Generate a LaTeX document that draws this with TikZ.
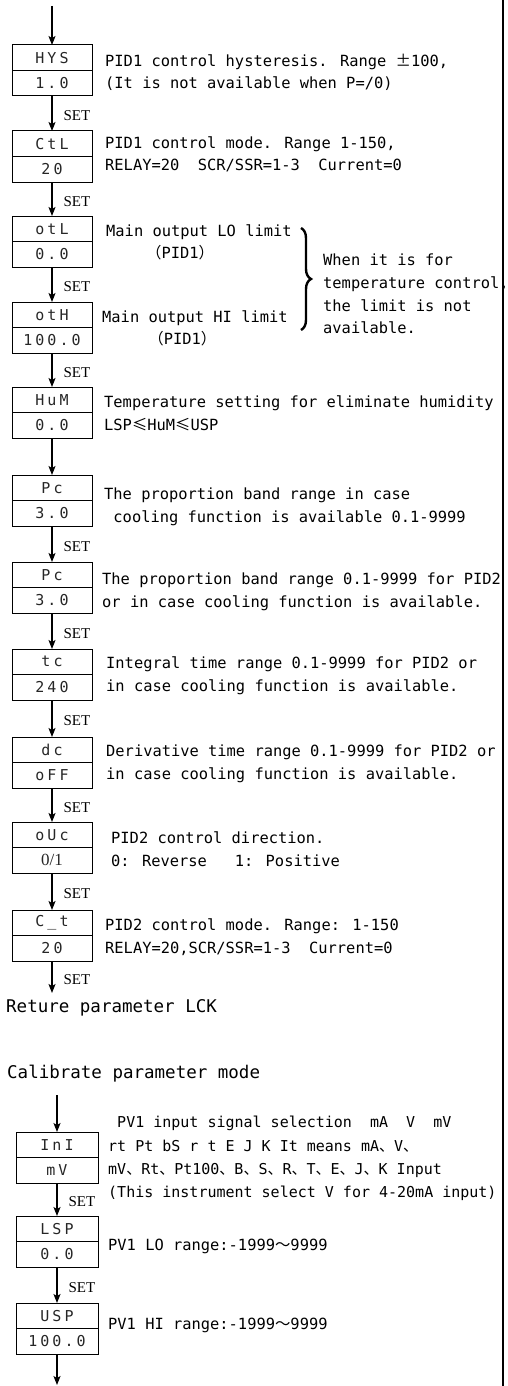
\documentclass[tikz,border=0pt]{standalone}
\usepackage{fontspec}
\usetikzlibrary{positioning, arrows.meta, decorations.pathreplacing}
\newfontfamily\descfont{DejaVu Sans Mono}
\newfontfamily\cjkfont{Noto Sans CJK SC}
\newfontfamily\setfont{Liberation Serif}
\newfontfamily\segfont[LetterSpace=20]{DejaVu Sans Mono}
\newcommand{\dunhao}{{\cjkfont 、}}

\begin{document}
\begin{tikzpicture}[x=1pt, y=-1pt,
    seg/.style={rectangle, draw, line width=1pt, outer sep=0pt, minimum width=80pt,
    minimum height=25.5pt, inner sep=0pt, text=black!85,
    font=\segfont\fontsize{15}{15}\selectfont},
    segw/.style={seg, minimum width=82pt},
    desc/.style={anchor=west, align=left, inner sep=0pt,
    font=\descfont\fontsize{15.4}{22.6}\selectfont},
    title/.style={anchor=west, inner sep=0pt, font=\descfont\fontsize{17.5}{20}\selectfont},
    arrow/.style={-{Stealth[length=9pt, width=7pt, inset=2pt]}, line width=1.1pt},
    setlbl/.style={right=11pt, pos=0.57, inner sep=0pt, font=\setfont\fontsize{15}{15}\selectfont},
]
\useasboundingbox (0,0) rectangle (508,1386);

% parameter boxes
\coordinate (start) at (52,6);
\node[seg] (hys) at (52,57.75) {HYS};
\node[seg, below=0pt of hys] (hysv) {1.0};
\node[seg, below=35pt of hysv] (ctl) {CtL};
\node[seg, below=0pt of ctl] (ctlv) {20};
\node[seg, below=34pt of ctlv] (otl) {otL};
\node[seg, below=0pt of otl] (otlv) {0.0};
\node[seg, below=35pt of otlv] (oth) {otH};
\node[seg, below=0pt of oth] (othv) {100.0};
\node[seg, below=34pt of othv] (hum) {HuM};
\node[seg, below=0pt of hum] (humv) {0.0};
\node[seg, below=37pt of humv] (pc) {Pc};
\node[seg, below=0pt of pc] (pcv) {3.0};
\node[seg, below=36pt of pcv] (pcb) {Pc};
\node[seg, below=0pt of pcb] (pcbv) {3.0};
\node[seg, below=36pt of pcbv] (tc) {tc};
\node[seg, below=0pt of tc] (tcv) {240};
\node[seg, below=37pt of tcv] (dc) {dc};
\node[seg, below=0pt of dc] (dcv) {oFF};
\node[seg, below=34pt of dcv] (ouc) {oUc};
\node[seg, below=0pt of ouc, font=\setfont\fontsize{17}{17}\selectfont] (oucv) {0/1};
\node[seg, below=37pt of oucv] (ct) {C\_t};
\node[seg, below=0pt of ct] (ctv) {20};

% descriptions
\node[desc, right=13pt of hys.south east, yshift=-2pt] (hysd)
  {PID1 control hysteresis. Range {\cjkfont ±}100,\\(It is not available when P=/0)};
\node[desc, right=13pt of ctl.south east, yshift=2pt] (ctld)
  {PID1 control mode. Range 1-150,\\RELAY=20\ \ SCR/SSR=1-3\ \ Current=0};
\node[desc, right=14pt of otl.south east, yshift=-1pt] (otld)
  {Main output LO limit\\\hspace*{2.6em}{\cjkfont （}PID1{\cjkfont ）}};
\node[desc, right=10pt of oth.south east, yshift=-1pt] (othd)
  {Main output HI limit\\\hspace*{3em}{\cjkfont （}PID1{\cjkfont ）}};
\node[desc, right=12pt of hum.south east, yshift=-0.5pt] (humd)
  {Temperature setting for eliminate humidity\\LSP{\cjkfont ≤}HuM{\cjkfont ≤}USP};
\node[desc, right=12pt of pc.south east, yshift=-6pt] (pcd)
  {The proportion band range in case\\\ cooling function is available 0.1-9999};
\node[desc, right=10pt of pcb.south east, yshift=-4pt] (pcbd)
  {The proportion band range 0.1-9999 for PID2\\or in case cooling function is available.};
\node[desc, right=14pt of tc.south east, yshift=-1pt] (tcd)
  {Integral time range 0.1-9999 for PID2 or\\in case cooling function is available.};
\node[desc, right=14pt of dc.south east, yshift=-1pt] (dcd)
  {Derivative time range 0.1-9999 for PID2 or\\in case cooling function is available.};
\node[desc, right=19pt of ouc.south east, yshift=-1.5pt] (oucd)
  {PID2 control direction.\\0: Reverse\ \ \ 1: Positive};
\node[desc, right=13pt of ct.south east, yshift=-1.5pt] (ctd)
  {PID2 control mode. Range: 1-150\\RELAY=20,SCR/SSR=1-3\ \ Current=0};

% brace for the output limits
\draw[line width=2.4pt, decorate, decoration={brace, amplitude=10pt}] (301,228) -- (301,330);
\node[desc] (limd) at (323,294)
  {When it is for\\temperature control,\\the limit is not\\available.};

% return and calibrate mode
\node[title] (ret) at (6,1008) {Reture parameter LCK};
\coordinate (retin) at (52,993);
\node[title] (cal) at (7,1074) {Calibrate parameter mode};
\coordinate (calout) at (57,1095);

\node[segw] (ini) at (57,1144.75) {InI};
\node[segw, below=0pt of ini] (iniv) {mV};
\node[segw, below=33pt of iniv] (lsp) {LSP};
\node[segw, below=0pt of lsp] (lspv) {0.0};
\node[segw, below=36pt of lspv] (usp) {USP};
\node[segw, below=0pt of usp] (uspv) {100.0};
\coordinate (finish) at (57,1385);

\node[desc, right=10pt of ini.south east, yshift=-1pt,
  font=\descfont\fontsize{15}{23.3}\selectfont] (inid)
  {\ PV1 input signal selection\ \ mA\ \ V\ \ mV\\
   rt Pt bS r t E J K It means mA\dunhao V\dunhao\\
   mV\dunhao Rt\dunhao Pt100\dunhao B\dunhao S\dunhao R\dunhao T\dunhao E\dunhao J\dunhao K Input\\
   (This instrument select V for 4-20mA input)};
\node[desc, right=10pt of lsp.south east, yshift=-5pt] (lspd)
  {PV1 LO range:-1999{\cjkfont ～}9999};
\node[desc, right=10pt of usp.south east, yshift=3pt] (uspd)
  {PV1 HI range:-1999{\cjkfont ～}9999};

% connectors
\draw[arrow] (start) -- (hys);
\draw[arrow] (hysv) -- node[setlbl] {SET} (ctl);
\draw[arrow] (ctlv) -- node[setlbl] {SET} (otl);
\draw[arrow] (otlv) -- node[setlbl] {SET} (oth);
\draw[arrow] (othv) -- node[setlbl] {SET} (hum);
\draw[arrow] (humv) -- (pc);
\draw[arrow] (pcv) -- node[setlbl] {SET} (pcb);
\draw[arrow] (pcbv) -- node[setlbl] {SET} (tc);
\draw[arrow] (tcv) -- node[setlbl] {SET} (dc);
\draw[arrow] (dcv) -- node[setlbl] {SET} (ouc);
\draw[arrow] (oucv) -- node[setlbl] {SET} (ct);
\draw[arrow] (ctv) -- node[setlbl] {SET} (retin);
\draw[arrow] (calout) -- (ini);
\draw[arrow] (iniv) -- node[setlbl] {SET} (lsp);
\draw[arrow] (lspv) -- node[setlbl] {SET} (usp);
\draw[arrow] (uspv) -- (finish);

% right border
\draw[line width=2.5pt] (503,0) -- (503,1386);

\end{tikzpicture}
\end{document}
